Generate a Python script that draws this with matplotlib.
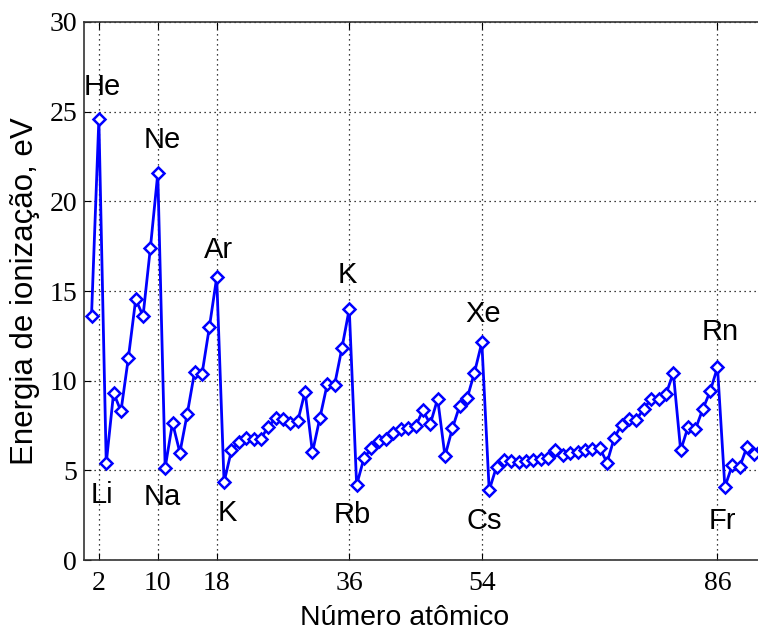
import matplotlib
matplotlib.use("Agg")
import matplotlib.pyplot as plt

# first ionization energies (eV), Z = 1..92
atomic_number = list(range(1, 93))
energy = [
    13.60, 24.59, 5.39, 9.32, 8.30, 11.26, 14.53, 13.62, 17.42, 21.56,
    5.14, 7.65, 5.99, 8.15, 10.49, 10.36, 12.97, 15.76, 4.34, 6.11,
    6.56, 6.83, 6.75, 6.77, 7.43, 7.90, 7.88, 7.64, 7.73, 9.39,
    6.00, 7.90, 9.79, 9.75, 11.81, 14.00, 4.18, 5.69, 6.22, 6.63,
    6.76, 7.09, 7.28, 7.36, 7.46, 8.34, 7.58, 8.99, 5.79, 7.34,
    8.61, 9.01, 10.45, 12.13, 3.89, 5.21, 5.58, 5.54, 5.47, 5.53,
    5.58, 5.64, 5.67, 6.15, 5.86, 5.94, 6.02, 6.11, 6.18, 6.25,
    5.43, 6.83, 7.55, 7.86, 7.83, 8.44, 8.97, 8.96, 9.23, 10.44,
    6.11, 7.42, 7.29, 8.41, 9.40, 10.75, 4.07, 5.28, 5.17, 6.31,
    5.89, 6.19,
]

x_ticks = [2, 10, 18, 36, 54, 86]
y_ticks = [0, 5, 10, 15, 20, 25, 30]

# element labels: (text, x, y)
peak_labels = [("He", 2.4, 26.4), ("Ne", 10.6, 23.4), ("Ar", 18.2, 17.3),
               ("K", 35.8, 15.9), ("Xe", 54.2, 13.7), ("Rn", 86.4, 12.7)]
dip_labels = [("Li", 2.4, 3.6), ("Na", 10.6, 3.5), ("K", 19.5, 2.6),
              ("Rb", 36.4, 2.5), ("Cs", 54.3, 2.2), ("Fr", 86.7, 2.2)]

fig = plt.figure(figsize=(7.58, 6.34), dpi=100)
ax = fig.add_axes([0.111, 0.1167, 0.889, 0.8486])

ax.plot(atomic_number, energy, color="#0000ff", linewidth=2.0,
        marker="D", markersize=6.5, markerfacecolor="white",
        markeredgecolor="#0000ff", markeredgewidth=1.8)

for txt, x, y in peak_labels + dip_labels:
    ax.text(x, y, txt, ha="center", va="center", fontsize=21,
            family="Liberation Sans")

ax.set_xlim(0, 91.5)
ax.set_ylim(0, 30)
ax.set_xticks(x_ticks)
ax.set_yticks(y_ticks)
ax.grid(True, color="black", linestyle=(0, (1, 3)), linewidth=0.9)
ax.tick_params(direction="in", top=True, right=False, length=5,
               labelsize=20, pad=5)
ax.tick_params(axis="x", pad=8)
for lab in ax.get_xticklabels() + ax.get_yticklabels():
    lab.set_family("Liberation Serif")
ax.spines["right"].set_visible(False)
for s in ("left", "top", "bottom"):
    ax.spines[s].set_linewidth(1.2)
    ax.spines[s].set_color("#333333")

ax.set_xlabel("Número atômico", fontsize=20.5, family="Liberation Sans")
ax.xaxis.set_label_coords(0.475, -0.084)
ax.set_ylabel("Energia de ionização, eV", fontsize=22.5,
              family="Liberation Sans")
ax.yaxis.set_label_coords(-0.066, 0.5)

fig.savefig("out.png", dpi=100)
